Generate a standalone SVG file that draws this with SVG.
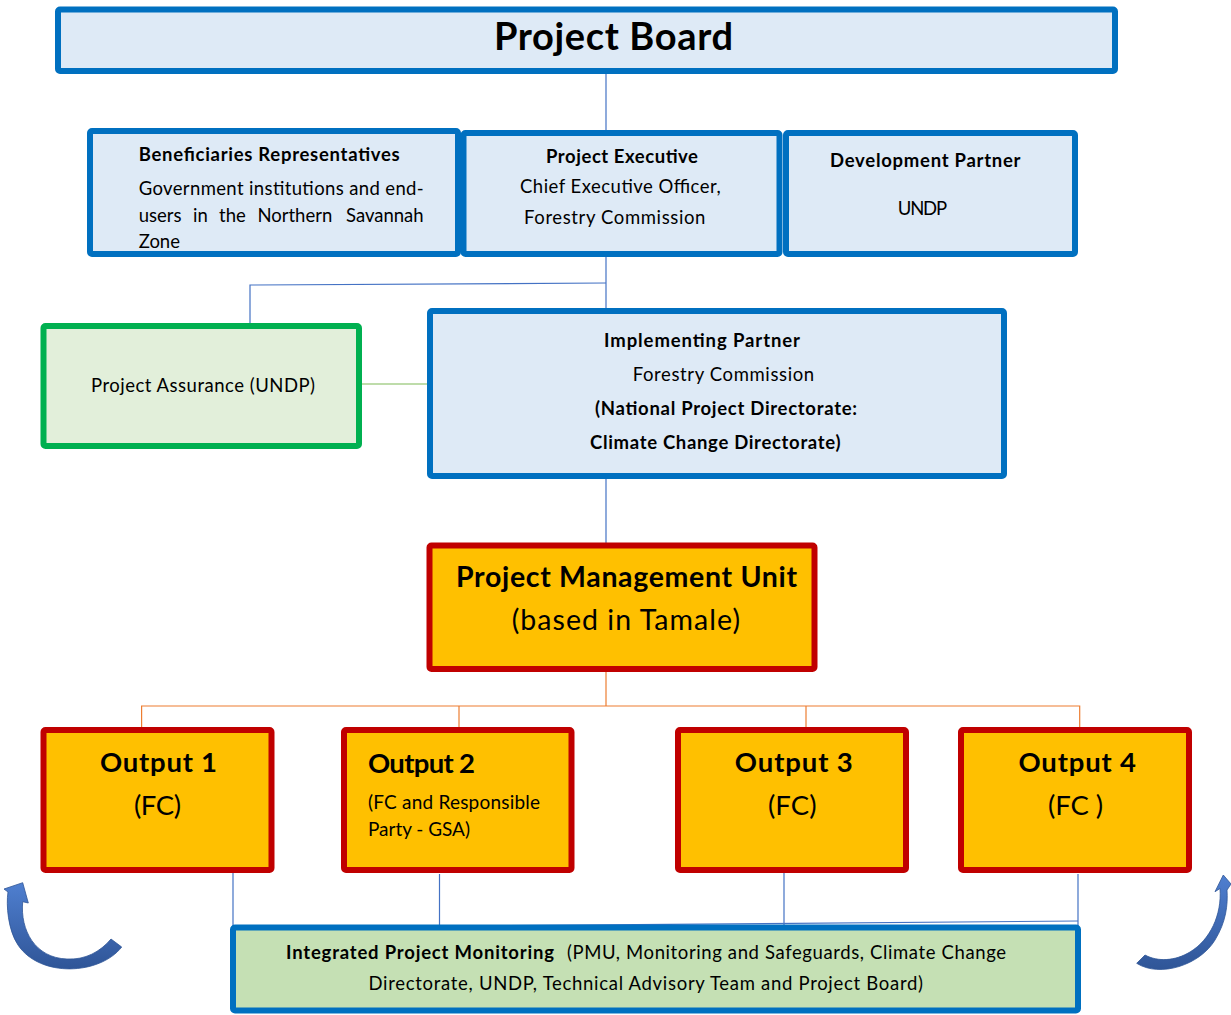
<svg xmlns="http://www.w3.org/2000/svg" width="1231" height="1015" viewBox="0 0 1231 1015">
  <defs>
    <style>
      .txt { font-family: Lato, "Liberation Sans", sans-serif; fill: #000; }
      .b { font-weight: 700; }
      .s17 { font-size: 18.5px; }
      .blue { fill: #DEEAF6; stroke: #0070C0; stroke-width: 6; }
      .green { fill: #E2EFDA; stroke: #00B050; stroke-width: 6; }
      .gold { fill: #FFC000; stroke: #C00000; stroke-width: 6; }
      .mon { fill: #C5E0B4; stroke: #0070C0; stroke-width: 6; }
      .cb { fill: none; stroke: #4472C4; stroke-width: 1.2; }
      .co { fill: none; stroke: #ED7D31; stroke-width: 1.2; }
      .cg { fill: none; stroke: #A9D18E; stroke-width: 1.6; }
      .arc { fill: url(#arcGrad); stroke: #2F5597; stroke-width: 0.8; }
    </style>
    <linearGradient id="arcGrad" x1="0" y1="0" x2="0" y2="1">
      <stop offset="0" stop-color="#4F7FD0"/>
      <stop offset="1" stop-color="#2F5597"/>
    </linearGradient>
  </defs>

  <!-- connectors -->
  <g id="connectors">
    <line class="cb" x1="606" y1="71" x2="606" y2="133"/>
    <line class="cb" x1="606" y1="254" x2="606" y2="311"/>
    <polyline class="cb" points="606,283 250,285 250,326"/>
    <line class="cg" x1="362" y1="384" x2="427" y2="384"/>
    <line class="cb" x1="606" y1="476" x2="606" y2="545"/>
    <line class="co" x1="606" y1="669" x2="606" y2="706"/>
    <polyline class="co" points="141.6,730 141.6,706 1079.7,706 1079.7,730"/>
    <line class="co" x1="459" y1="706" x2="459" y2="730"/>
    <line class="co" x1="806" y1="706" x2="806" y2="730"/>
    <line class="cb" x1="233" y1="870" x2="233" y2="928"/>
    <line class="cb" x1="439.5" y1="874" x2="439.5" y2="933"/>
    <line class="cb" x1="784" y1="870" x2="784" y2="925"/>
    <line class="cb" x1="1078" y1="874" x2="1078" y2="933"/>
    <line class="cb" x1="233" y1="928" x2="1078" y2="921"/>
  </g>

  <!-- Project Board -->
  <g id="project-board">
    <rect class="blue" x="58" y="9.5" width="1057" height="61.5" rx="2"/>
    <text class="txt b" x="613.5" y="49.5" font-size="38" text-anchor="middle" textLength="239">Project Board</text>
  </g>

  <!-- Beneficiaries Representatives -->
  <g id="beneficiaries">
    <rect class="blue" x="90" y="131" width="368" height="123" rx="2"/>
    <text class="txt b s17" x="138.7" y="161.3" textLength="261">Beneficiaries Representatives</text>
    <text class="txt s17" x="138.7" y="195" textLength="285">Government institutions and end-</text>
    <text class="txt s17" y="221.7">
      <tspan x="138.7">users</tspan>
      <tspan x="193">in</tspan>
      <tspan x="219">the</tspan>
      <tspan x="257.4">Northern</tspan>
      <tspan x="346">Savannah</tspan>
    </text>
    <text class="txt s17" x="138.7" y="248.3">Zone</text>
  </g>

  <!-- Project Executive -->
  <g id="project-executive">
    <rect class="blue" x="463.5" y="133" width="316" height="121" rx="2"/>
    <text class="txt b s17" x="546" y="162.7" textLength="152">Project Executive</text>
    <text class="txt s17" x="520" y="193.3" textLength="200.7">Chief Executive Officer,</text>
    <text class="txt s17" x="524" y="224" textLength="181.4">Forestry Commission</text>
  </g>

  <!-- Development Partner -->
  <g id="development-partner">
    <rect class="blue" x="786" y="133" width="289" height="121" rx="2"/>
    <text class="txt b s17" x="830" y="166.7" textLength="190.5">Development Partner</text>
    <text class="txt s17" x="897.8" y="215" textLength="49.2">UNDP</text>
  </g>

  <!-- Project Assurance -->
  <g id="project-assurance">
    <rect class="green" x="43.5" y="326" width="315.5" height="120" rx="2"/>
    <text class="txt s17" x="91" y="392" textLength="224">Project Assurance (UNDP)</text>
  </g>

  <!-- Implementing Partner -->
  <g id="implementing-partner">
    <rect class="blue" x="430" y="311" width="574" height="165" rx="2"/>
    <text class="txt b s17" x="604" y="346.7" textLength="196">Implementing Partner</text>
    <text class="txt s17" x="632.7" y="381" textLength="181.5">Forestry Commission</text>
    <text class="txt b s17" x="595" y="415" textLength="262">(National Project Directorate:</text>
    <text class="txt b s17" x="590" y="449" textLength="250.5">Climate Change Directorate)</text>
  </g>

  <!-- Project Management Unit -->
  <g id="pmu">
    <rect class="gold" x="429.5" y="545.5" width="385" height="123.5" rx="2"/>
    <text class="txt b" x="456" y="587" font-size="28.5" textLength="341">Project Management Unit</text>
    <text class="txt" x="511.7" y="630" font-size="28.5" textLength="228.3">(based in Tamale)</text>
  </g>

  <!-- Outputs -->
  <g id="output-1">
    <rect class="gold" x="43.5" y="730" width="228" height="140" rx="2"/>
    <text class="txt b" x="100" y="771.7" font-size="27.5" textLength="117">Output 1</text>
    <text class="txt" x="134" y="815" font-size="27.5" textLength="47">(FC)</text>
  </g>
  <g id="output-2">
    <rect class="gold" x="344" y="730" width="227.5" height="140" rx="2"/>
    <text class="txt b" x="368" y="772.7" font-size="27.5" textLength="107">Output 2</text>
    <text class="txt" x="368" y="809" font-size="19" textLength="172">(FC and Responsible</text>
    <text class="txt" x="368" y="836" font-size="19" textLength="102">Party - GSA)</text>
  </g>
  <g id="output-3">
    <rect class="gold" x="678" y="730" width="228" height="140" rx="2"/>
    <text class="txt b" x="734.8" y="771.7" font-size="27.5" textLength="118">Output 3</text>
    <text class="txt" x="768" y="815" font-size="27.5" textLength="48.5">(FC)</text>
  </g>
  <g id="output-4">
    <rect class="gold" x="961" y="730" width="228" height="140" rx="2"/>
    <text class="txt b" x="1018.5" y="771.7" font-size="27.5" textLength="117.5">Output 4</text>
    <text class="txt" x="1048" y="815" font-size="27.5" textLength="55">(FC )</text>
  </g>

  <!-- Integrated Project Monitoring -->
  <g id="monitoring">
    <rect class="mon" x="233" y="927.5" width="845" height="83" rx="2"/>
    <text class="txt b s17" x="286" y="959" textLength="268">Integrated  Project Monitoring</text>
    <text class="txt s17" x="567" y="959" textLength="439">(PMU, Monitoring and Safeguards, Climate Change</text>
    <text class="txt s17" x="368.5" y="990" textLength="554.5">Directorate, UNDP, Technical Advisory Team  and Project Board)</text>
  </g>

  <!-- curved feedback arrows -->
  <g id="arrow-left">
    <path class="arc" d="M 121.7,947 C 100,975 40,978 18,945 C 8,930 6,905 8,892 L 4,889 L 22.7,882.7 L 28.3,903 L 22.7,901.7 C 20,930 35,958 67,959 C 85,960 100,952 111,939 Z"/>
  </g>
  <g id="arrow-right">
    <path class="arc" d="M 1136.7,963.3 C 1160,978 1200,965 1215,940 C 1226,922 1228,905 1227,890 L 1231,884 L 1223.3,875 L 1215,891.7 L 1220,888.5 C 1222,915 1210,940 1190,952 C 1175,961 1158,962 1145,955 Z"/>
  </g>
</svg>
